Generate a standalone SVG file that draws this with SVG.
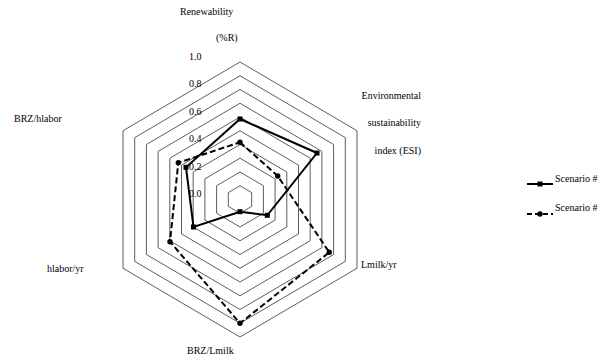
<svg xmlns="http://www.w3.org/2000/svg" width="598" height="358" viewBox="0 0 598 358">
<style>
text{font-family:"Liberation Serif","Times New Roman",serif;font-size:10px;fill:#000}
.grid{fill:none;stroke:#333;stroke-width:0.8}
.s1{fill:none;stroke:#000;stroke-width:2;stroke-linejoin:miter}
.s2{fill:none;stroke:#000;stroke-width:2;stroke-dasharray:6 3}
.m{fill:#000}
</style>
<rect width="598" height="358" fill="#fff"/>
<g id="grid">
<polygon class="grid" points="240,185.75 251.7,192.63 251.7,206.38 240,213.25 228.3,206.38 228.3,192.63"/>
<polygon class="grid" points="240,172 263.4,185.75 263.4,213.25 240,227 216.6,213.25 216.6,185.75"/>
<polygon class="grid" points="240,158.25 275.1,178.88 275.1,220.13 240,240.75 204.9,220.13 204.9,178.88"/>
<polygon class="grid" points="240,144.5 286.8,172 286.8,227 240,254.5 193.2,227 193.2,172"/>
<polygon class="grid" points="240,130.75 298.5,165.13 298.5,233.88 240,268.25 181.5,233.88 181.5,165.13"/>
<polygon class="grid" points="240,117 310.2,158.25 310.2,240.75 240,282 169.8,240.75 169.8,158.25"/>
<polygon class="grid" points="240,103.25 321.9,151.38 321.9,247.63 240,295.75 158.1,247.63 158.1,151.38"/>
<polygon class="grid" points="240,89.5 333.6,144.5 333.6,254.5 240,309.5 146.4,254.5 146.4,144.5"/>
<polygon class="grid" points="240,75.75 345.3,137.63 345.3,261.38 240,323.25 134.7,261.38 134.7,137.63"/>
<polygon class="grid" points="240,62 357,130.75 357,268.25 240,337 123,268.25 123,130.75"/>
</g>
<g id="axis-labels">
<text x="189" y="60">1.0</text>
<text x="189" y="87">0.8</text>
<text x="189" y="115">0.6</text>
<text x="189" y="142">0.4</text>
<text x="189" y="170">0.2</text>
<text x="189" y="197">0.0</text>
</g>
<g id="category-labels">
<text x="180" y="15">Renewability</text>
<text x="216" y="41">(%R)</text>
<text x="421" y="99" text-anchor="end">Environmental</text>
<text x="421" y="126" text-anchor="end">sustainability</text>
<text x="421" y="154" text-anchor="end">index (ESI)</text>
<text x="361" y="268">Lmilk/yr</text>
<text x="187" y="354">BRZ/Lmilk</text>
<text x="47" y="272">hlabor/yr</text>
<text x="14" y="122">BRZ/hlabor</text>
</g>
<g id="connectors">
<polygon id="series2" class="s2" points="240,142.3 277.7,176 329.3,252.3 240,323.3 170,241.7 178.3,162.7"/>
<polygon id="series1" class="s1" points="240,119 317,153 267.3,215.3 240,211.7 193.5,227 186,167.3"/>
</g>
<g id="markers1" class="m">
<rect x="237.5" y="116.5" width="5" height="5"/>
<rect x="314.5" y="150.5" width="5" height="5"/>
<rect x="264.8" y="212.8" width="5" height="5"/>
<rect x="237.5" y="209.2" width="5" height="5"/>
<rect x="191" y="224.5" width="5" height="5"/>
<rect x="183.5" y="164.8" width="5" height="5"/>
</g>
<g id="markers2" class="m">
<circle cx="240" cy="142.3" r="2.7"/>
<circle cx="277.7" cy="176" r="2.7"/>
<circle cx="329.3" cy="252.3" r="2.7"/>
<circle cx="240" cy="323.3" r="2.7"/>
<circle cx="170" cy="241.7" r="2.7"/>
<circle cx="178.3" cy="162.7" r="2.7"/>
</g>
<g id="legend">
<line class="s1" x1="527" y1="184" x2="553" y2="184"/>
<rect class="m" x="537.5" y="181.5" width="5" height="5"/>
<text x="555" y="182">Scenario #</text>
<line class="s2" x1="527" y1="214" x2="553" y2="214" style="stroke-dasharray:5 3"/>
<circle class="m" cx="540" cy="214" r="2.7"/>
<text x="555" y="211">Scenario #</text>
</g>
</svg>
